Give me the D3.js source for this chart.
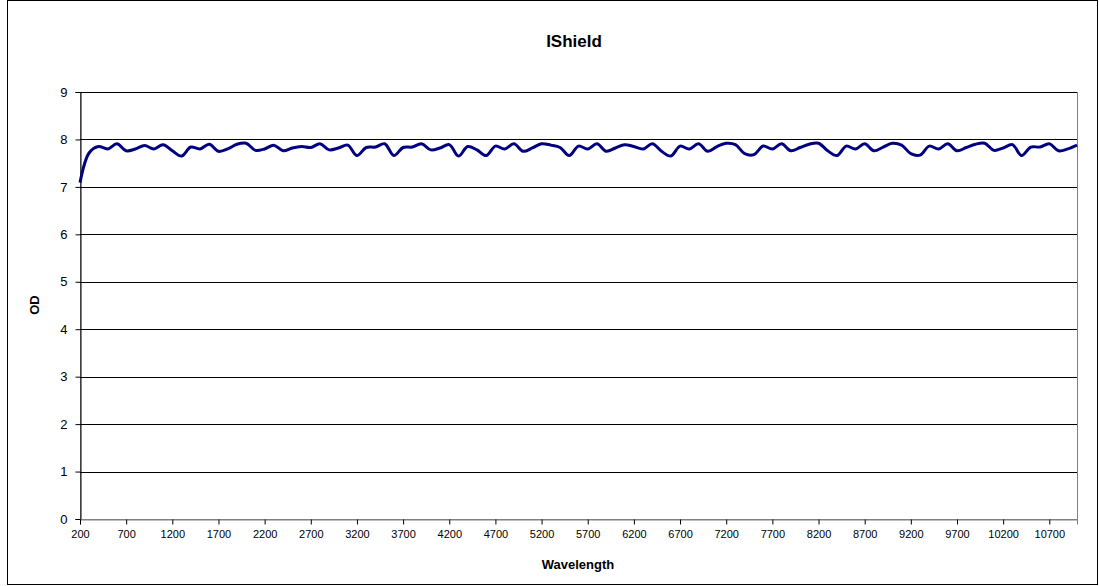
<!doctype html>
<html lang="en">
<head>
  <meta charset="utf-8">
  <title>IShield</title>
  <style>
    body {
      margin: 0;
      background: #fff;
    }
    svg {
      display: block;
      font-family: "Liberation Sans", Arial, sans-serif;
    }
    .grid line {
      stroke: #000;
      stroke-width: 1px;
    }
    .tick text {
      fill: #000;
    }
  </style>
</head>
<body>
  <svg id="chart" width="1099" height="586"></svg>

  <script src="https://d3js.org/d3.v7.min.js"></script>
  <script>
    // wavelength runs 200..11000 in steps of 100
    var wavelengths = d3.range(200, 11001, 100)
    var od = [
      7.09, 7.72, 7.85, 7.80, 7.91, 7.76, 7.80, 7.87, 7.80, 7.89,
      7.76, 7.65, 7.84, 7.80, 7.90, 7.75, 7.80, 7.90, 7.92, 7.77,
      7.80, 7.88, 7.76, 7.82, 7.85, 7.83, 7.91, 7.78, 7.82, 7.88,
      7.66, 7.83, 7.84, 7.91, 7.66, 7.83, 7.84, 7.91, 7.78, 7.82,
      7.89, 7.65, 7.85, 7.78, 7.66, 7.86, 7.80, 7.91, 7.75, 7.82,
      7.91, 7.88, 7.83, 7.66, 7.86, 7.80, 7.91, 7.75, 7.82, 7.89,
      7.85, 7.80, 7.91, 7.75, 7.65, 7.86, 7.80, 7.91, 7.75, 7.85,
      7.92, 7.89, 7.70, 7.68, 7.86, 7.80, 7.91, 7.76, 7.83, 7.90,
      7.92, 7.76, 7.66, 7.86, 7.80, 7.91, 7.76, 7.84, 7.92, 7.88,
      7.70, 7.67, 7.86, 7.80, 7.91, 7.76, 7.83, 7.90, 7.92, 7.77,
      7.82, 7.89, 7.66, 7.84, 7.84, 7.91, 7.76, 7.80, 7.88
    ]
    var xTicks = d3.range(200, 10701, 500)
    var yTicks = d3.range(0, 10)

    var data = wavelengths.map(function(w, i) {
      return {w: w, v: od[i]}
    })

    var svg = d3.select("#chart")
    var plotLeft = 80, plotRight = 1077, plotTop = 92, plotBottom = 519

    var x = d3.scaleLinear().domain([200, 11000]).range([plotLeft, plotRight])
    var y = d3.scaleLinear().domain([0, 9]).range([plotBottom, plotTop])

    // outer chart border
    svg.append("rect")
      .attr("x", 7.5).attr("y", 0.5)
      .attr("width", 1090).attr("height", 584)
      .attr("fill", "#fff")
      .attr("stroke", "#000")

    // plot area border
    svg.append("rect")
      .attr("x", plotLeft + 0.5).attr("y", plotTop + 0.5)
      .attr("width", plotRight - plotLeft).attr("height", plotBottom - plotTop)
      .attr("fill", "#fff")
      .attr("stroke", "#808080")

    // horizontal gridlines
    svg.append("g").attr("class", "grid")
      .selectAll("line")
      .data(yTicks.filter(function(d) { return d > 0 }))
      .enter().append("line")
      .attr("x1", plotLeft).attr("x2", plotRight)
      .attr("y1", function(d) { return Math.round(y(d)) + 0.5 })
      .attr("y2", function(d) { return Math.round(y(d)) + 0.5 })

    // y axis
    var yAxis = svg.append("g")
      .attr("transform", "translate(" + (plotLeft + 0.5) + ",0)")
      .call(d3.axisLeft(y).tickValues(yTicks).tickSize(5).tickPadding(8))
    yAxis.select(".domain").attr("stroke", "#000")
    yAxis.selectAll(".tick line").attr("stroke", "#000")
    yAxis.selectAll(".tick text").style("font-size", "13px")

    // x axis
    var xAxis = svg.append("g")
      .attr("transform", "translate(0," + (plotBottom + 0.5) + ")")
      .call(d3.axisBottom(x).tickValues(xTicks).tickFormat(d3.format("d")).tickSize(5).tickPadding(6))
    xAxis.select(".domain").attr("stroke", "#808080")
    xAxis.selectAll(".tick line").attr("stroke", "#000")
    xAxis.selectAll(".tick text").style("font-size", "11px")

    // series line
    var line = d3.line()
      .x(function(d) { return x(d.w) })
      .y(function(d) { return y(d.v) })
      .curve(d3.curveCatmullRom)

    svg.append("path")
      .datum(data)
      .attr("d", line)
      .attr("fill", "none")
      .attr("stroke", "#000080")
      .attr("stroke-width", 3)
      .attr("stroke-linejoin", "round")

    // titles
    svg.append("text")
      .attr("x", 574).attr("y", 47)
      .attr("text-anchor", "middle")
      .style("font-size", "17px").style("font-weight", "bold")
      .text("IShield")

    svg.append("text")
      .attr("x", 578).attr("y", 569)
      .attr("text-anchor", "middle")
      .style("font-size", "13px").style("font-weight", "bold")
      .text("Wavelength")

    svg.append("text")
      .attr("transform", "translate(39,305) rotate(-90)")
      .attr("text-anchor", "middle")
      .style("font-size", "13px").style("font-weight", "bold")
      .text("OD")
  </script>
</body>
</html>
